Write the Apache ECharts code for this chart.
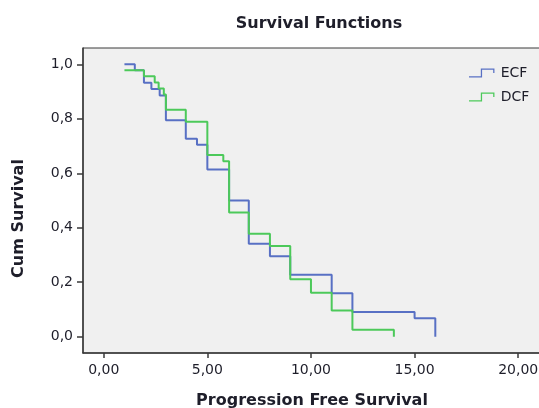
<!DOCTYPE html>
<html>
<head>
<meta charset="utf-8">
<script src="https://cdn.jsdelivr.net/npm/echarts@6/dist/echarts.min.js"></script>
<style>
  html, body { margin: 0; padding: 0; background: #fff; }
  #chart { width: 539px; height: 408px; }
</style>
</head>
<body>
<div id="chart"></div>
<script>
// step points of the Kaplan-Meier curves (time, cumulative survival)
var ecfTime = [1.0, 1.5, 1.94, 2.3, 2.7, 3.0, 3.96, 4.5, 5.0, 6.05, 7.0, 8.02, 9.0, 11.0, 12.0, 15.0, 16.0];
var ecfSurv = [1.0, 0.978, 0.932, 0.909, 0.886, 0.795, 0.727, 0.705, 0.614, 0.5, 0.341, 0.295, 0.227, 0.159, 0.091, 0.068, 0.0];
var dcfTime = [1.0, 1.94, 2.46, 2.65, 2.9, 3.0, 3.96, 5.0, 5.77, 6.05, 7.0, 8.02, 9.0, 10.0, 11.0, 12.0, 14.0];
var dcfSurv = [0.978, 0.956, 0.933, 0.911, 0.889, 0.833, 0.789, 0.667, 0.644, 0.456, 0.378, 0.333, 0.211, 0.161, 0.096, 0.025, 0.0];
var xTicks = [0, 5, 10, 15, 20];
var yTicks = [0, 0.2, 0.4, 0.6, 0.8, 1.0];

function zip(a, b) {
    var out = [];
    for (var i = 0; i < a.length; i++) out.push([a[i], b[i]]);
    return out;
}

// small step shape like the SPSS legend swatch
var stepIcon = 'path://M0,8.5 L13,8.5 L13,0 L28,0 L28,5 L26.6,5 L26.6,1.4 L14.4,1.4 L14.4,9.9 L0,9.9 Z';
var txt = '#1e1e2a';
var font = 'DejaVu Sans';

var myChart = echarts.init(document.getElementById('chart'));
var option = {
    animation: false,
    backgroundColor: '#fff',
    title: {
        text: 'Survival Functions',
        left: 314,
        textAlign: 'center',
        top: 11,
        textStyle: { fontFamily: font, fontSize: 16, fontWeight: 'bold', color: txt }
    },
    legend: {
        orient: 'vertical',
        left: 464,
        top: 61,
        itemWidth: 28,
        itemHeight: 9,
        itemGap: 10,
        icon: stepIcon,
        textStyle: { fontFamily: font, fontSize: 14, color: txt },
        data: ['ECF', 'DCF']
    },
    grid: {
        left: 83, right: -2, top: 48, bottom: 55,
        containLabel: false,
        outerBoundsMode: 'none',
        show: true,
        backgroundColor: '#f0f0f0',
        borderColor: '#3a3a3a',
        borderWidth: 1
    },
    xAxis: {
        type: 'value',
        min: -1, max: 21.1,
        name: 'Progression Free Survival',
        nameLocation: 'middle',
        nameGap: 40,
        nameTextStyle: { fontFamily: font, fontSize: 16, fontWeight: 'bold', color: txt },
        axisLine: { onZero: false, lineStyle: { color: '#3a3a3a', width: 1.5 } },
        axisTick: { customValues: xTicks, length: 5, lineStyle: { color: '#3a3a3a', width: 1.5 } },
        axisLabel: {
            customValues: xTicks, margin: 10,
            fontFamily: font, fontSize: 14, color: txt,
            formatter: function(v) { return v.toFixed(2).replace('.', ','); }
        },
        splitLine: { show: false }
    },
    yAxis: {
        type: 'value',
        min: -0.06, max: 1.06,
        name: 'Cum Survival',
        nameLocation: 'middle',
        nameGap: 56,
        nameRotate: 90,
        nameTextStyle: { fontFamily: font, fontSize: 16, fontWeight: 'bold', color: txt, padding: [0, 36, 0, 0] },
        axisLine: { onZero: false, lineStyle: { color: '#3a3a3a', width: 1.5 } },
        axisTick: { customValues: yTicks, length: 6, lineStyle: { color: '#3a3a3a', width: 1.5 } },
        axisLabel: {
            customValues: yTicks, margin: 10,
            fontFamily: font, fontSize: 14, color: txt,
            formatter: function(v) { return v.toFixed(1).replace('.', ','); }
        },
        splitLine: { show: false }
    },
    series: [{
        name: 'ECF',
        type: 'line',
        step: 'end',
        showSymbol: false,
        color: '#5870c4',
        lineStyle: { width: 2 },
        data: zip(ecfTime, ecfSurv)
    }, {
        name: 'DCF',
        type: 'line',
        step: 'end',
        showSymbol: false,
        color: '#4cc95a',
        lineStyle: { width: 2 },
        data: zip(dcfTime, dcfSurv)
    }]
};
myChart.setOption(option);
</script>
</body>
</html>
